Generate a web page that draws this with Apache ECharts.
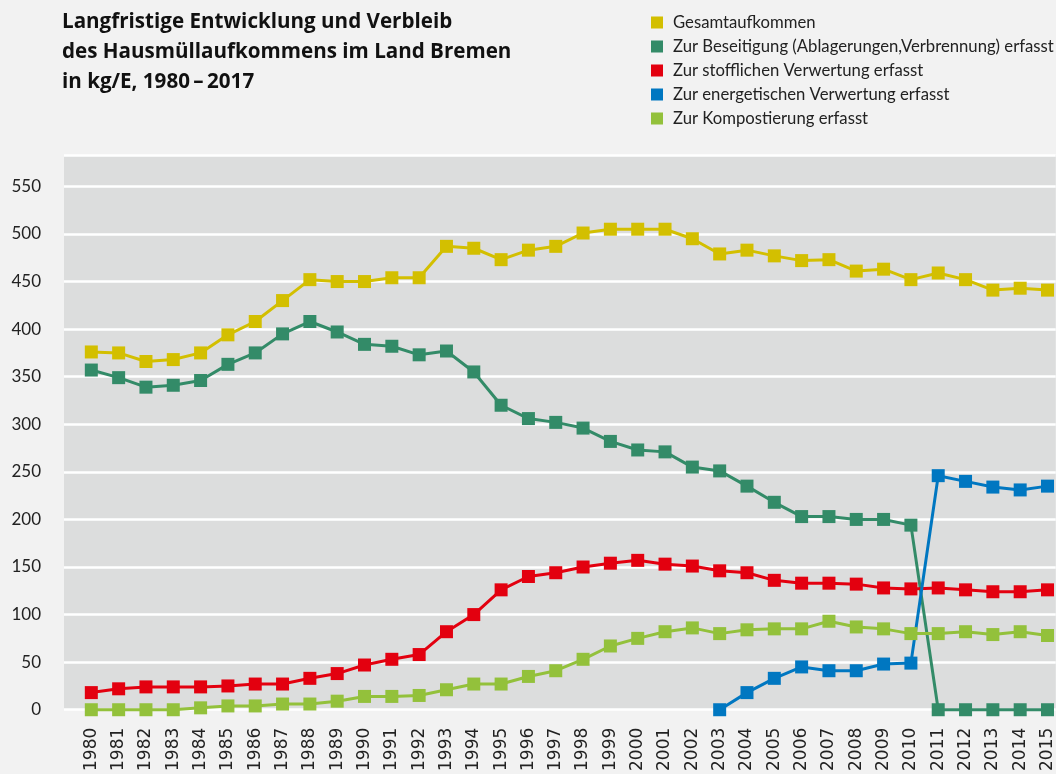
<!DOCTYPE html>
<html>
<head>
<meta charset="utf-8">
<script src="https://cdn.jsdelivr.net/npm/echarts@6/dist/echarts.min.js"></script>
<style>
  html, body { margin: 0; padding: 0; background: #f2f2f2; }
  #main { width: 1056px; height: 774px; }
</style>
</head>
<body>
<div id="main"></div>
<script>
// Jahre 1980 - 2015 (sichtbarer Ausschnitt)
const years = [];
for (let y = 1980; y <= 2015; y++) years.push(y);

// Werte in kg/E
const gesamt = [376, 375, 366, 368, 375, 394, 408, 430, 452, 450, 450, 454, 454, 487, 485, 473, 483, 487, 501, 505,
                505, 505, 495, 479, 483, 477, 472, 473, 461, 463, 452, 459, 452, 441, 443, 441];
const beseitigung = [357, 349, 339, 341, 346, 363, 375, 395, 408, 397, 384, 382, 373, 377, 355, 320, 306, 302, 296, 282,
                     273, 271, 255, 251, 235, 218, 203, 203, 200, 200, 194, 0, 0, 0, 0, 0];
const stofflich = [18, 22, 24, 24, 24, 25, 27, 27, 33, 38, 47, 53, 58, 82, 100, 126, 140, 144, 150, 154,
                   157, 153, 151, 146, 144, 136, 133, 133, 132, 128, 127, 128, 126, 124, 124, 126];
const energetisch = [null, null, null, null, null, null, null, null, null, null, null, null, null, null, null, null, null, null, null, null,
                     null, null, null, 0, 18, 33, 45, 41, 41, 48, 49, 246, 240, 234, 231, 235];
const kompost = [0, 0, 0, 0, 2, 4, 4, 6, 6, 9, 14, 14, 15, 21, 27, 27, 35, 41, 53, 67,
                 75, 82, 86, 80, 84, 85, 85, 93, 87, 85, 80, 80, 82, 79, 82, 78];
const yTicks = [0, 50, 100, 150, 200, 250, 300, 350, 400, 450, 500, 550];

const names = ['Gesamtaufkommen', 'Zur Beseitigung (Ablagerungen,Verbrennung) erfasst',
  'Zur stofflichen Verwertung erfasst', 'Zur energetischen Verwertung erfasst', 'Zur Kompostierung erfasst'];
const colors = ['#d3bf00', '#338b68', '#e3000f', '#0077c1', '#93c13b'];
const values = [gesamt, beseitigung, stofflich, energetisch, kompost];

let chart = echarts.init(document.getElementById('main'));

let option = {
  backgroundColor: '#f2f2f2',
  animation: false,
  title: {
    text: 'Langfristige Entwicklung und Verbleib\ndes Hausmüllaufkommens im Land Bremen\nin kg/E, 1980\u2009–\u20092017',
    left: 57,
    top: 2,
    textStyle: {
      fontFamily: 'Open Sans',
      fontWeight: 'bold',
      fontSize: 20.6,
      lineHeight: 30,
      color: '#111'
    }
  },
  legend: {
    data: names,
    orient: 'vertical',
    left: 646,
    top: 9,
    icon: 'rect',
    itemWidth: 12,
    itemHeight: 12,
    itemGap: 7,
    textStyle: {
      fontFamily: 'Lato',
      fontSize: 16.7,
      color: '#222',
      padding: [0, 0, 0, 5]
    }
  },
  grid: {
    show: true,
    left: 64,
    right: 0,
    top: 155,
    bottom: 59,
    backgroundColor: '#dcdddd',
    borderWidth: 0
  },
  xAxis: {
    type: 'value',
    min: 1979,
    max: 2015.3,
    interval: 1,
    axisLine: { show: false },
    axisTick: { show: false },
    splitLine: { show: false },
    axisLabel: {
      rotate: 90,
      margin: 18,
      fontFamily: 'DejaVu Sans',
      fontSize: 17,
      color: '#222',
      padding: [8, 0, 0, 0],
      formatter: function (v) {
        return years.indexOf(v) >= 0 ? String(v) : '';
      }
    }
  },
  yAxis: {
    type: 'value',
    min: 0,
    max: 583,
    interval: 50,
    axisLine: { show: false },
    axisTick: { show: false },
    splitLine: { lineStyle: { color: '#ffffff', width: 2.5 } },
    axisLabel: {
      margin: 23,
      fontFamily: 'Lato',
      fontSize: 17,
      color: '#222',
      showMaxLabel: false,
      formatter: function (v) {
        return yTicks.indexOf(v) >= 0 ? String(v) : '';
      }
    }
  },
  series: names.map(function (n, k) {
    return {
      name: n,
      type: 'line',
      data: years.map(function (y, i) { return [y, values[k][i]]; }),
      symbol: 'rect',
      symbolSize: 13,
      clip: false,
      itemStyle: { color: colors[k] },
      lineStyle: { color: colors[k], width: 3 }
    };
  })
};

chart.setOption(option);
</script>
</body>
</html>
